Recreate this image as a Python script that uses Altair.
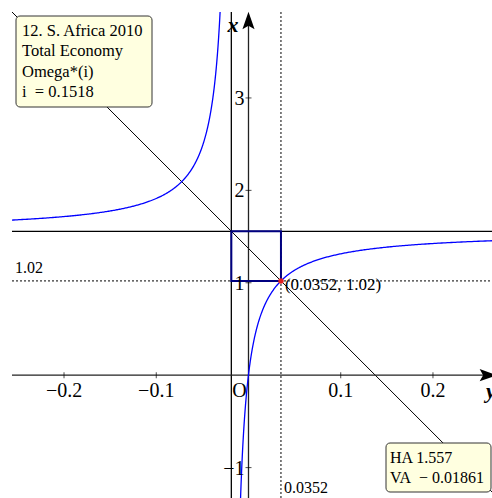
import altair as alt
import numpy as np
import pandas as pd

# Asymptotes of Omega*(i) and the marked point on the curve
HA = 1.557
VA = -0.01861
PT_X = 0.0352
PT_Y = 1.02

x_ticks = [-0.2, -0.1, 0.1, 0.2]
x_tick_labels = ["−0.2", "−0.1", "0.1", "0.2"]
y_ticks = [-1, 1, 2, 3]
y_tick_labels = ["−1", "1", "2", "3"]

info_lines = ["12. S. Africa 2010", "Total Economy", "Omega*(i)", "i\u00a0\u00a0= 0.1518"]
asym_lines = ["HA 1.557", "VA\u00a0\u00a0− 0.01861"]

X_MIN, X_MAX = -0.2564, 0.2640
Y_MIN, Y_MAX = -1.329, 3.93

SERIF = "Liberation Serif"

xs = alt.Scale(domain=[X_MIN, X_MAX], nice=False, zero=False)
ys = alt.Scale(domain=[Y_MIN, Y_MAX], nice=False, zero=False)

# hyperbola y = HA + k / (x - VA) passing through the marked point
k = (PT_Y - HA) * (PT_X - VA)
d_right = np.geomspace(0.008, X_MAX - VA, 400)
d_left = -np.geomspace(0.010, VA - X_MIN, 400)
curve = pd.concat([
    pd.DataFrame({"x": VA + d_left, "y": HA + k / d_left, "branch": "left", "i": np.arange(400)}),
    pd.DataFrame({"x": VA + d_right, "y": HA + k / d_right, "branch": "right", "i": np.arange(400)}),
])

X = lambda f="x": alt.X(f, type="quantitative", scale=xs, axis=None)
Y = lambda f="y": alt.Y(f, type="quantitative", scale=ys, axis=None)

curve_layer = alt.Chart(curve).mark_line(clip=True, color="#0000ff", strokeWidth=1.3).encode(
    x=X(), y=Y(), detail="branch:N", order="i:Q")

# straight reference lines
hlines = pd.DataFrame({"x": [X_MIN], "x2": [X_MAX], "y": [HA]})
ha_layer = alt.Chart(hlines).mark_rule(color="black", strokeWidth=1.3).encode(
    x=X(), x2="x2", y=Y())
vlines = pd.DataFrame({"x": [VA], "y": [Y_MIN], "y2": [Y_MAX]})
va_layer = alt.Chart(vlines).mark_rule(color="black", strokeWidth=1.3).encode(
    x=X(), y=Y(), y2="y2")

dot_h = pd.DataFrame({"x": [X_MIN], "x2": [X_MAX], "y": [PT_Y]})
dot_h_layer = alt.Chart(dot_h).mark_rule(color="black", strokeWidth=1, strokeDash=[2, 2]).encode(
    x=X(), x2="x2", y=Y())
dot_v = pd.DataFrame({"x": [PT_X], "y": [Y_MIN], "y2": [Y_MAX]})
dot_v_layer = alt.Chart(dot_v).mark_rule(color="black", strokeWidth=1, strokeDash=[2, 2]).encode(
    x=X(), y=Y(), y2="y2")

# line through the centre of the hyperbola and the marked point
slope = (PT_Y - HA) / (PT_X - VA)
diag = pd.DataFrame({"x": [X_MIN], "x2": [X_MAX],
                     "y": [HA + slope * (X_MIN - VA)], "y2": [HA + slope * (X_MAX - VA)]})
diag_layer = alt.Chart(diag).mark_rule(color="black", strokeWidth=1, clip=True).encode(
    x=X(), x2="x2", y=Y(), y2="y2")

box = pd.DataFrame({"x": [VA], "x2": [PT_X], "y": [PT_Y], "y2": [HA]})
box_layer = alt.Chart(box).mark_rect(fillOpacity=0, stroke="#000080", strokeWidth=2).encode(
    x=X(), x2="x2", y=Y(), y2="y2")

# coordinate axes through the origin
axes_x = pd.DataFrame({"x": [X_MIN], "x2": [0.2600], "y": [0.0]})
axis_x_layer = alt.Chart(axes_x).mark_rule(color="#222222", strokeWidth=1.3).encode(
    x=X(), x2="x2", y=Y())
axes_y = pd.DataFrame({"x": [0.0], "y": [Y_MIN], "y2": [3.838]})
axis_y_layer = alt.Chart(axes_y).mark_rule(color="#222222", strokeWidth=1.3).encode(
    x=X(), y=Y(), y2="y2")

arrow_path = "M0,-1L0.7,1L0,0.6L-0.7,1Z"
arrow_y = alt.Chart(pd.DataFrame({"x": [0.0], "y": [3.838]})).mark_point(
    shape=arrow_path, filled=True, color="black", size=300, opacity=1).encode(x=X(), y=Y())
arrow_x = alt.Chart(pd.DataFrame({"x": [0.2600], "y": [0.0]})).mark_point(
    shape=arrow_path, filled=True, color="black", size=300, opacity=1, angle=90).encode(x=X(), y=Y())

xt = pd.DataFrame({"x": x_ticks, "y": [0.0] * len(x_ticks), "label": x_tick_labels})
xtick_layer = alt.Chart(xt).mark_tick(orient="vertical", size=6, thickness=1, color="black").encode(
    x=X(), y=Y())
xlab_layer = alt.Chart(xt).mark_text(font=SERIF, fontSize=20, dy=22, baseline="alphabetic",
                                     align="center", color="black").encode(x=X(), y=Y(), text="label:N")

yt = pd.DataFrame({"x": [0.0] * len(y_ticks), "y": y_ticks, "label": y_tick_labels})
ytick_layer = alt.Chart(yt).mark_tick(orient="horizontal", size=6, thickness=1, color="black").encode(
    x=X(), y=Y())
ylab_layer = alt.Chart(yt).mark_text(font=SERIF, fontSize=20, dx=-4, dy=1, baseline="middle",
                                     align="right", color="black").encode(x=X(), y=Y(), text="label:N")

origin = pd.DataFrame({"x": [0.0], "y": [0.0]})
origin_layer = alt.Chart(origin).mark_text(text="O", font=SERIF, fontSize=20, dx=-9, dy=22,
                                           baseline="alphabetic", align="center", color="black").encode(
    x=X(), y=Y())

x_name = alt.Chart(pd.DataFrame({"a": [0]})).mark_text(
    text="x", font=SERIF, fontSize=22, fontStyle="italic", fontWeight="bold", align="center",
    baseline="alphabetic", color="black").encode(x=alt.value(221), y=alt.value(20))
y_name = alt.Chart(pd.DataFrame({"a": [0]})).mark_text(
    text="y", font=SERIF, fontSize=22, fontStyle="italic", fontWeight="bold", align="left",
    baseline="alphabetic", color="black").encode(x=alt.value(474), y=alt.value(386))

pt = pd.DataFrame({"x": [PT_X], "y": [PT_Y], "label": [f"({PT_X}, {PT_Y})"]})
pt_layer = alt.Chart(pt).mark_point(filled=True, color="#e02020", size=30, opacity=1).encode(x=X(), y=Y())
pt_label = alt.Chart(pt).mark_text(font=SERIF, fontSize=17, dx=4, dy=4, align="left",
                                   baseline="middle", color="black").encode(x=X(), y=Y(), text="label:N")

ylevel = alt.Chart(pd.DataFrame({"y": [PT_Y], "label": [str(PT_Y)]})).mark_text(
    font=SERIF, fontSize=16, dy=-8, align="left", baseline="alphabetic", color="black").encode(
    x=alt.value(3), y=Y(), text="label:N")
xlevel = alt.Chart(pd.DataFrame({"x": [PT_X], "label": [str(PT_X)]})).mark_text(
    font=SERIF, fontSize=16, dx=3, align="left", baseline="alphabetic", color="black").encode(
    x=X(), y=alt.value(481), text="label:N")

# annotation boxes
one = pd.DataFrame({"a": [0]})
info_box = alt.Chart(one).mark_rect(fill="#ffffe0", stroke="#333333", strokeWidth=1, cornerRadius=4).encode(
    x=alt.value(4), x2=alt.value(140), y=alt.value(4), y2=alt.value(95))
info_text = alt.Chart(one).mark_text(
    text=info_lines, font=SERIF, fontSize=16.5, lineHeight=20.4, align="left", baseline="alphabetic",
    color="black").encode(x=alt.value(10), y=alt.value(24))
asym_box = alt.Chart(one).mark_rect(fill="#ffffe0", stroke="#333333", strokeWidth=1, cornerRadius=4).encode(
    x=alt.value(374), x2=alt.value(479), y=alt.value(431), y2=alt.value(480))
asym_text = alt.Chart(one).mark_text(
    text=asym_lines, font=SERIF, fontSize=16, lineHeight=20, align="left", baseline="alphabetic",
    color="black").encode(x=alt.value(378), y=alt.value(451))

chart = alt.layer(
    dot_h_layer, dot_v_layer, ha_layer, va_layer, diag_layer, axis_x_layer, axis_y_layer,
    xtick_layer, ytick_layer, box_layer, curve_layer, arrow_x, arrow_y, pt_layer,
    xlab_layer, ylab_layer, origin_layer, x_name, y_name, pt_label, ylevel, xlevel,
    info_box, info_text, asym_box, asym_text,
).properties(
    width=480, height=486, autosize="none",
    padding={"left": 12, "top": 12, "right": 0, "bottom": 0},
    background="white",
).configure_view(stroke=None)

chart.save("out.html", embed_options={"renderer": "svg", "actions": False})
